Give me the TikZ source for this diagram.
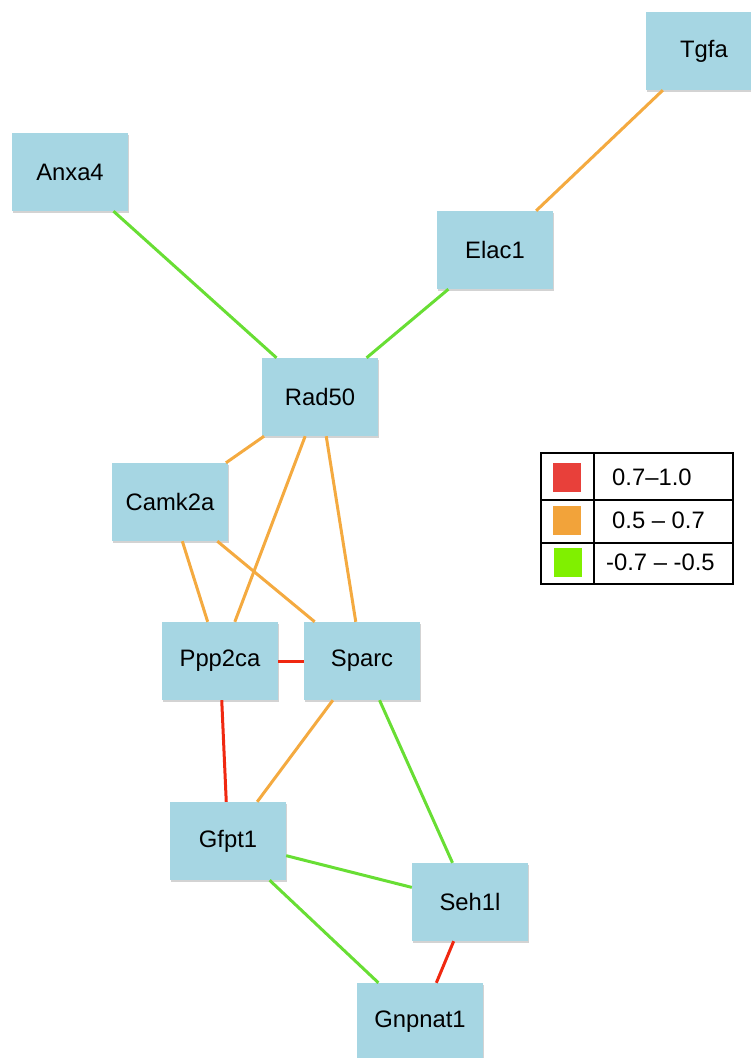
\documentclass[tikz,border=0pt]{standalone}
\usepackage{fontspec}
\setmainfont{Liberation Sans}
\usetikzlibrary{shadows}
\definecolor{boxblue}{RGB}{166,214,227}
\definecolor{egreen}{RGB}{104,222,52}
\definecolor{eorange}{RGB}{244,170,64}
\definecolor{ered}{RGB}{240,40,16}
\definecolor{sred}{RGB}{232,64,58}
\definecolor{sorange}{RGB}{242,163,58}
\definecolor{sgreen}{RGB}{128,240,0}
\tikzset{
  gene/.style={draw=none, fill=boxblue, minimum width=116pt, minimum height=78pt, inner sep=0pt,
    font=\fontsize{23.8}{28}\selectfont,
    drop shadow={shadow xshift=1pt, shadow yshift=-2pt, opacity=0.35, fill=gray}},
  edgeorange/.style={line width=3pt, eorange},
  edgegreen/.style={line width=3pt, egreen},
  edgered/.style={line width=3pt, ered},
  legtext/.style={anchor=west, font=\fontsize{23.8}{28}\selectfont, inner sep=0pt},
  swatch/.style={minimum width=28pt, minimum height=29pt, inner sep=0pt},
}
\begin{document}
\begin{tikzpicture}[x=1pt, y=-1pt]
\useasboundingbox (0,0) rectangle (751,1058);
\node[gene] (tgfa) at (704,51) {Tgfa};
\node[gene] (anxa4) at (70,172) {Anxa4};
\node[gene] (elac1) at (495,250) {Elac1};
\node[gene] (rad50) at (320,397) {Rad50};
\node[gene] (camk2a) at (170,502) {Camk2a};
\node[gene] (ppp2ca) at (220,661) {Ppp2ca};
\node[gene] (sparc) at (362,661) {Sparc};
\node[gene] (gfpt1) at (228,841) {Gfpt1};
\node[gene] (seh1l) at (470,902) {Seh1l};
\node[gene, minimum width=126pt] (gnpnat1) at (420,1022) {Gnpnat1};
\draw[edgeorange] (tgfa) -- (elac1);
\draw[edgegreen] (elac1) -- (rad50);
\draw[edgegreen] (anxa4) -- (rad50);
\draw[edgeorange] (rad50) -- (camk2a);
\draw[edgeorange] (rad50) -- (ppp2ca);
\draw[edgeorange] (rad50) -- (sparc);
\draw[edgeorange] (camk2a) -- (ppp2ca);
\draw[edgeorange] (camk2a) -- (sparc);
\draw[edgered] (ppp2ca) -- (sparc);
\draw[edgered] (ppp2ca) -- (gfpt1);
\draw[edgeorange] (sparc) -- (gfpt1);
\draw[edgegreen] (sparc) -- (seh1l);
\draw[edgegreen] (gfpt1) -- (seh1l);
\draw[edgegreen] (gfpt1) -- (gnpnat1);
\draw[edgered] (seh1l) -- (gnpnat1);
% legend
\node[draw=black, line width=2pt, minimum width=192pt, minimum height=131pt, inner sep=0pt] (legend) at (637,518.5) {};
\coordinate (d1) at (594,453);
\coordinate (d2) at (594,584);
\draw[line width=2pt] (d1) -- (d2);
\coordinate (r1a) at (541,500);
\coordinate (r1b) at (733,500);
\coordinate (r2a) at (541,543);
\coordinate (r2b) at (733,543);
\draw[line width=2pt] (r1a) -- (r1b);
\draw[line width=2pt] (r2a) -- (r2b);
\node[swatch, fill=sred] (sw1) at (567,477.5) {};
\node[swatch, fill=sorange] (sw2) at (567,520.5) {};
\node[swatch, fill=sgreen] (sw3) at (568,562.5) {};
\node[legtext] (l1) at (612,477.5) {0.7–1.0};
\node[legtext] (l2) at (612,520.5) {0.5 – 0.7};
\node[legtext] (l3) at (606,562.5) {-0.7 – -0.5};
\end{tikzpicture}
\end{document}
